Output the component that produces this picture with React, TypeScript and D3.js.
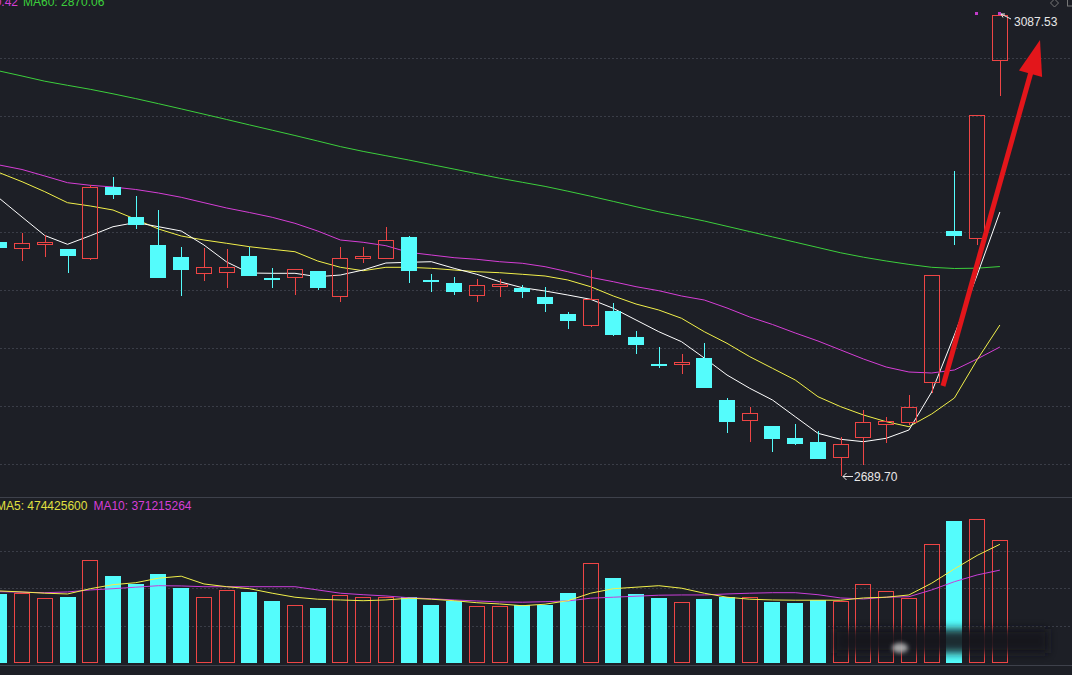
import React, { useEffect } from 'react';
import * as d3 from 'd3';

const W = 1072;
const H = 675;

// ---- data ----
const openP = [2891.20, 2885.43, 2888.36, 2885.17, 2876.82, 2938.82, 2912.47, 2888.61, 2878.28, 2863.38, 2864.24, 2878.88, 2859.77, 2859.94, 2866.23, 2843.58, 2876.82, 2876.82, 2895.76, 2858.22, 2855.89, 2844.44, 2854.43, 2851.33, 2843.58, 2829.20, 2819.12, 2831.78, 2809.65, 2786.14, 2785.02, 2791.31, 2755.14, 2737.32, 2732.76, 2722.68, 2718.98, 2704.94, 2722.68, 2733.62, 2735.08, 2770.21, 2900.67, 2893.52, 3047.31];
const closeP = [2886.03, 2890.08, 2891.20, 2879.40, 2938.30, 2931.93, 2905.58, 2860.46, 2867.35, 2869.67, 2869.67, 2862.18, 2858.91, 2867.95, 2851.33, 2877.16, 2879.40, 2892.92, 2866.48, 2857.01, 2848.40, 2853.91, 2855.29, 2848.40, 2837.55, 2823.43, 2842.11, 2811.37, 2802.50, 2784.42, 2787.61, 2765.74, 2736.46, 2743.69, 2721.82, 2717.26, 2704.60, 2717.00, 2735.94, 2737.06, 2748.86, 2862.78, 2896.36, 3000.56, 3086.67];
const highP = [2892.92, 2898.95, 2897.23, 2885.60, 2940.28, 2947.17, 2930.81, 2918.75, 2887.15, 2885.77, 2884.91, 2887.15, 2868.55, 2868.20, 2866.50, 2887.15, 2887.15, 2904.37, 2896.62, 2863.64, 2860.80, 2859.08, 2859.08, 2853.91, 2852.71, 2831.18, 2867.09, 2838.41, 2814.56, 2800.78, 2794.75, 2803.97, 2756.61, 2749.37, 2733.00, 2734.22, 2728.45, 2723.02, 2746.53, 2740.25, 2759.45, 2863.00, 2952.59, 3000.80, 3087.53];
const lowP = [2884.31, 2875.09, 2878.54, 2864.76, 2875.70, 2928.48, 2902.65, 2860.20, 2844.96, 2857.87, 2851.33, 2861.92, 2851.33, 2845.56, 2849.86, 2839.79, 2873.37, 2876.50, 2855.63, 2848.14, 2845.82, 2839.79, 2843.58, 2843.23, 2831.18, 2816.02, 2817.75, 2810.51, 2794.75, 2782.44, 2777.53, 2765.50, 2726.99, 2719.24, 2710.62, 2716.65, 2704.08, 2689.70, 2699.17, 2717.86, 2733.62, 2761.43, 2888.61, 2888.61, 3017.18];

const ma5 = [2928.83, 2912.72, 2896.79, 2889.22, 2896.62, 2904.37, 2907.99, 2904.37, 2900.67, 2888.61, 2873.98, 2864.50, 2864.24, 2864.24, 2861.32, 2862.78, 2867.09, 2873.11, 2873.72, 2874.23, 2868.55, 2863.38, 2857.01, 2851.85, 2849.00, 2845.56, 2841.86, 2834.11, 2824.03, 2813.96, 2805.35, 2791.31, 2776.67, 2765.22, 2755.14, 2740.76, 2726.47, 2721.30, 2719.24, 2722.16, 2729.31, 2762.03, 2811.12, 2862.78, 2917.03];
const ma10 = [2950.87, 2943.12, 2934.51, 2925.04, 2922.20, 2918.75, 2910.74, 2902.39, 2896.36, 2892.92, 2890.08, 2887.15, 2884.91, 2882.84, 2874.84, 2869.41, 2866.48, 2869.41, 2869.41, 2868.55, 2867.09, 2865.62, 2864.76, 2863.38, 2861.92, 2858.48, 2852.71, 2844.70, 2837.81, 2832.64, 2825.50, 2813.96, 2803.97, 2792.43, 2782.44, 2772.37, 2757.99, 2749.37, 2742.23, 2736.46, 2732.15, 2743.09, 2756.87, 2789.85, 2819.73];
const ma20 = [2957.50, 2953.63, 2948.03, 2942.26, 2940.02, 2938.56, 2936.41, 2933.39, 2929.69, 2925.04, 2920.47, 2916.60, 2912.47, 2907.30, 2900.67, 2892.92, 2890.94, 2888.01, 2882.33, 2880.00, 2877.68, 2876.30, 2874.23, 2872.86, 2869.93, 2865.62, 2860.80, 2857.01, 2852.71, 2849.26, 2844.70, 2841.25, 2834.36, 2826.61, 2820.16, 2812.84, 2805.95, 2798.20, 2790.45, 2783.56, 2779.25, 2778.39, 2780.98, 2790.45, 2800.78];
const ma60 = [3038.45, 3034.14, 3029.66, 3026.13, 3022.69, 3018.81, 3014.68, 3010.29, 3005.81, 3001.25, 2996.68, 2992.03, 2987.47, 2982.90, 2978.17, 2973.35, 2969.21, 2965.51, 2961.81, 2957.85, 2953.97, 2950.01, 2946.14, 2942.60, 2939.08, 2934.94, 2930.64, 2926.16, 2921.59, 2917.20, 2913.33, 2909.28, 2904.72, 2900.15, 2895.59, 2891.03, 2886.46, 2881.90, 2878.11, 2874.84, 2871.91, 2869.41, 2868.38, 2868.64, 2870.06];

// volume in millions
const volumeM = [276, 279, 259, 264, 411, 348, 315, 356, 301, 263, 291, 285, 248, 231, 220, 271, 263, 263, 263, 232, 249, 227, 227, 232, 232, 280, 400, 340, 276, 261, 243, 257, 264, 263, 244, 241, 252, 249, 315, 288, 260, 475, 568, 575, 491];
const volMa5 = [288, 284, 279, 276, 297, 313, 321, 339, 347, 316, 305, 297, 279, 263, 255, 252, 249, 252, 259, 255, 249, 241, 236, 229, 235, 249, 279, 297, 303, 309, 299, 279, 263, 255, 252, 251, 251, 251, 260, 263, 272, 319, 376, 430, 474.43];
const volMa10 = [285, 283, 281, 284, 292, 297, 303, 309, 308, 305, 305, 305, 305, 305, 292, 279, 273, 268, 261, 257, 252, 248, 244, 243, 245, 248, 259, 263, 267, 271, 272, 272, 276, 279, 281, 281, 273, 260, 256, 263, 265, 292, 325, 352, 371.22];

const priceLegend = [
  { text: 'MA20: 2800.42', color: '#d63ed6', anchor: 'end' },
  { text: 'MA60: 2870.06', color: '#3ccf3c', anchor: 'start' },
];
const volLegend = [
  { text: 'MA5: 474425600', color: '#e0e040' },
  { text: 'MA10: 371215264', color: '#d63ed6' },
];
const lowLabel = '2689.70';
const highLabel = '3087.53';

// ---- styles ----
const BG = '#1d1f26';
const RED = '#ee4545';
const CYAN = '#54fcfc';
const GRID = '#3a3d47';
const FONT = '"Liberation Sans", Arial, sans-serif';

export default function App() {
  useEffect(() => {
    document.body.style.margin = '0';
    document.body.style.background = BG;
  }, []);

  const n = openP.length;
  const x = d3.scaleLinear().domain([0, n - 1]).range([-0.7, 999.9]);
  const y = d3.scaleLinear().domain([2689.70, 3087.53]).range([476, 14]);
  const yv = d3.scaleLinear().domain([0, 600]).range([663, 512.9]);

  const line = d3.line<number>().x((_, i) => x(i)).y((d) => y(d));
  const vline = d3.line<number>().x((_, i) => x(i)).y((d) => yv(d));

  const mainGrid = d3.range(1, 9).map((k) => k * 58);
  const volGrid = [0, 1, 2].map((k) => 550.5 + k * 37.6);

  // arrow geometry
  const tail = [943, 386];
  const tip = [1040, 40];
  const dx = tip[0] - tail[0];
  const dy = tip[1] - tail[1];
  const len = Math.hypot(dx, dy);
  const ux = dx / len, uy = dy / len;
  const headLen = 35, headHalf = 12;
  const bx = tip[0] - ux * headLen, by = tip[1] - uy * headLen;
  const px = -uy, py = ux;

  return (
    <svg width={W} height={H} style={{ position: 'absolute', left: 0, top: 0, background: BG, display: 'block' }}>
      <defs>
        <filter id="blur4" x="-20%" y="-50%" width="140%" height="200%">
          <feGaussianBlur stdDeviation="4" />
        </filter>
        <filter id="blur2" x="-50%" y="-50%" width="200%" height="200%">
          <feGaussianBlur stdDeviation="2" />
        </filter>
      </defs>
      <rect x={0} y={0} width={W} height={H} fill={BG} />

      {/* grid */}
      {mainGrid.map((g) => (
        <line key={'g' + g} x1={0} x2={W} y1={g + 0.5} y2={g + 0.5} stroke={GRID} strokeDasharray="2,2" />
      ))}
      {volGrid.map((g) => (
        <line key={'vg' + g} x1={0} x2={W} y1={Math.round(g) + 0.5} y2={Math.round(g) + 0.5} stroke={GRID} strokeDasharray="2,2" />
      ))}
      <line x1={0} x2={W} y1={497.5} y2={497.5} stroke="#3e414b" />
      <line x1={0} x2={W} y1={665.5} y2={665.5} stroke="#3e414b" />

      {/* MA lines (price) */}
      <path d={line(ma60) || ''} fill="none" stroke="#3ccf3c" strokeWidth={1} />
      <path d={line(ma20) || ''} fill="none" stroke="#d63ed6" strokeWidth={1} />
      <path d={line(ma10) || ''} fill="none" stroke="#f2f04a" strokeWidth={1} />
      <path d={line(ma5) || ''} fill="none" stroke="#ffffff" strokeWidth={1} />

      {/* candles */}
      <g shapeRendering="crispEdges">
        {openP.map((o, i) => {
          const c = closeP[i];
          const up = c >= o;
          const cx = Math.round(x(i));
          const top = Math.round(y(Math.max(o, c)));
          let bot = Math.round(y(Math.min(o, c)));
          const yh = Math.round(y(highP[i]));
          const yl = Math.round(y(lowP[i]));
          if (up) {
            if (bot - top < 3) bot = top + 3;
            return (
              <g key={'c' + i}>
                <line x1={cx + 0.5} x2={cx + 0.5} y1={yh} y2={top} stroke={RED} />
                <line x1={cx + 0.5} x2={cx + 0.5} y1={bot} y2={yl} stroke={RED} />
                <rect x={cx - 7.5} y={top + 0.5} width={15} height={bot - top - 1} fill="none" stroke={RED} />
              </g>
            );
          }
          if (bot - top < 2) bot = top + 2;
          return (
            <g key={'c' + i}>
              <line x1={cx + 0.5} x2={cx + 0.5} y1={yh} y2={yl} stroke={CYAN} />
              <rect x={cx - 8} y={top} width={16} height={bot - top} fill={CYAN} />
            </g>
          );
        })}
      </g>

      {/* volume bars */}
      <g shapeRendering="crispEdges">
        {volumeM.map((v, i) => {
          const up = closeP[i] >= openP[i];
          const cx = Math.round(x(i));
          const top = Math.round(yv(v));
          const base = Math.round(yv(0));
          return up ? (
            <rect key={'v' + i} x={cx - 7.5} y={top + 0.5} width={15} height={base - top - 1} fill="none" stroke={RED} />
          ) : (
            <rect key={'v' + i} x={cx - 8} y={top} width={16} height={base - top} fill={CYAN} />
          );
        })}
      </g>
      <path d={vline(volMa10) || ''} fill="none" stroke="#c83ed8" strokeWidth={1} />
      <path d={vline(volMa5) || ''} fill="none" stroke="#f2f04a" strokeWidth={1} />

      {/* blurred watermark */}
      <rect x={834} y={629} width={214} height={24} fill="#17181d" opacity={0.9} filter="url(#blur4)" />
      <ellipse cx={900} cy={648} rx={8} ry={5} fill="#c8c8c8" opacity={0.8} filter="url(#blur2)" />

      {/* red arrow */}
      <line x1={tail[0]} y1={tail[1]} x2={bx + ux * 2} y2={by + uy * 2} stroke="#e3161b" strokeWidth={5} />
      <path
        d={`M${tip[0]},${tip[1]} L${bx + px * headHalf},${by + py * headHalf} L${bx - px * headHalf},${by - py * headHalf} Z`}
        fill="#e3161b"
      />

      {/* high/low labels */}
      <rect x={975} y={12} width={3} height={3} fill="#c13cc8" />
      <rect x={998} y={12} width={3} height={3} fill="#c13cc8" />
      <path d="M1001,14 L1011,19 M1001,14 L1005,14 M1001,14 L1003,17.5" stroke="#e8e8e8" strokeWidth={1} fill="none" />
      <text x={1014} y={26} fill="#e8e8e8" fontSize={12} fontFamily={FONT}>{highLabel}</text>
      <path d="M843,476.5 H853 M846.5,473 L843,476.5 L846.5,480" stroke="#e8e8e8" strokeWidth={1} fill="none" />
      <text x={854} y={481} fill="#e8e8e8" fontSize={12} fontFamily={FONT}>{lowLabel}</text>

      {/* top-right icons */}
      <path d="M1054.5,-1 L1058.5,3 L1054.5,7 L1050.5,3 Z" fill="none" stroke="#777" />
      <rect x={1067.5} y={-2} width={8} height={8} fill="none" stroke="#777" />

      {/* legends */}
      <text x={18} y={6} fill={priceLegend[0].color} fontSize={12} fontFamily={FONT} textAnchor="end">{priceLegend[0].text}</text>
      <text x={23} y={6} fill={priceLegend[1].color} fontSize={12} fontFamily={FONT}>{priceLegend[1].text}</text>
      <text x={-4} y={510} fontSize={12} fontFamily={FONT}>
        <tspan fill={volLegend[0].color}>{volLegend[0].text}</tspan>
        <tspan fill={volLegend[1].color} dx={6}>{volLegend[1].text}</tspan>
      </text>
    </svg>
  );
}
